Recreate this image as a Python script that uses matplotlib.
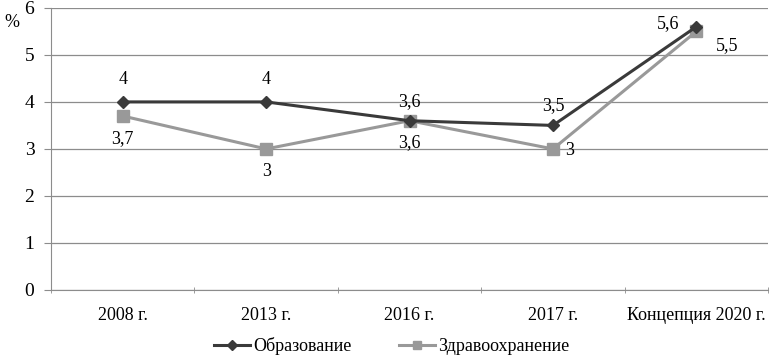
import matplotlib.pyplot as plt
from matplotlib.ticker import FixedLocator, NullFormatter

plt.rcParams['font.family'] = ['Liberation Serif', 'DejaVu Serif']

categories = ["2008 г.", "2013 г.", "2016 г.", "2017 г.", "Концепция 2020 г."]
education = [4, 4, 3.6, 3.5, 5.6]
health = [3.7, 3, 3.6, 3, 5.5]
edu_labels = ["4", "4", "3,6", "3,5", "5,6"]
health_labels = ["3,7", "3", "3,6", "3", "5,5"]

fig = plt.figure(figsize=(7.79, 3.58), dpi=100)
ax = fig.add_axes([0.0655, 0.19, 0.9205, 0.788])

x = range(len(categories))
ax.plot(x, education, color="#3a3a3a", lw=2.2, marker="D", ms=6.5, label="Образование", zorder=4)
ax.plot(x, health, color="#999999", lw=2.2, marker="s", ms=8, label="Здравоохранение", zorder=3)

# data labels, placed roughly as in the original
edu_off = [(0, 10), (0, 10), (0, 8), (0, 8), (-20, 2)]
health_off = [(0, -16), (0, -16), (0, -16), (12, -1), (22, -10)]
for i in x:
    ax.annotate(edu_labels[i], (i, education[i]), xytext=edu_off[i], textcoords="offset points",
                ha="center", va="bottom" if edu_off[i][1] > 5 else "center", fontsize=13)
    ax.annotate(health_labels[i], (i, health[i]), xytext=health_off[i], textcoords="offset points",
                ha="center", va="center", fontsize=13)

ax.set_xlim(-0.5, len(categories) - 0.5)
ax.set_ylim(0, 6)
ax.set_yticks(range(7))
ax.yaxis.grid(True, color="#8c8c8c", lw=0.9)
ax.set_axisbelow(True)
ax.set_xticks(list(x))
ax.set_xticklabels(categories, fontsize=13)
ax.tick_params(axis="x", length=0, pad=12)
ax.xaxis.set_minor_locator(FixedLocator([i - 0.5 for i in range(len(categories) + 1)]))
ax.xaxis.set_minor_formatter(NullFormatter())
ax.tick_params(axis="x", which="minor", length=5, direction="inout", color="#8c8c8c")
ax.tick_params(axis="y", length=5, direction="out", color="#8c8c8c", labelsize=14, pad=7)
for side in ["top", "right"]:
    ax.spines[side].set_visible(False)
ax.spines["left"].set_color("#8c8c8c")
ax.spines["bottom"].set_color("#8c8c8c")

fig.text(0.005, 0.925, "%", fontsize=13)

ax.legend(loc="center", bbox_to_anchor=(0.475, -0.2), ncol=2, frameon=False, fontsize=13,
          handlelength=2, columnspacing=2.6, handletextpad=0.2, markerscale=0.8)

fig.savefig("out.png", dpi=100)
